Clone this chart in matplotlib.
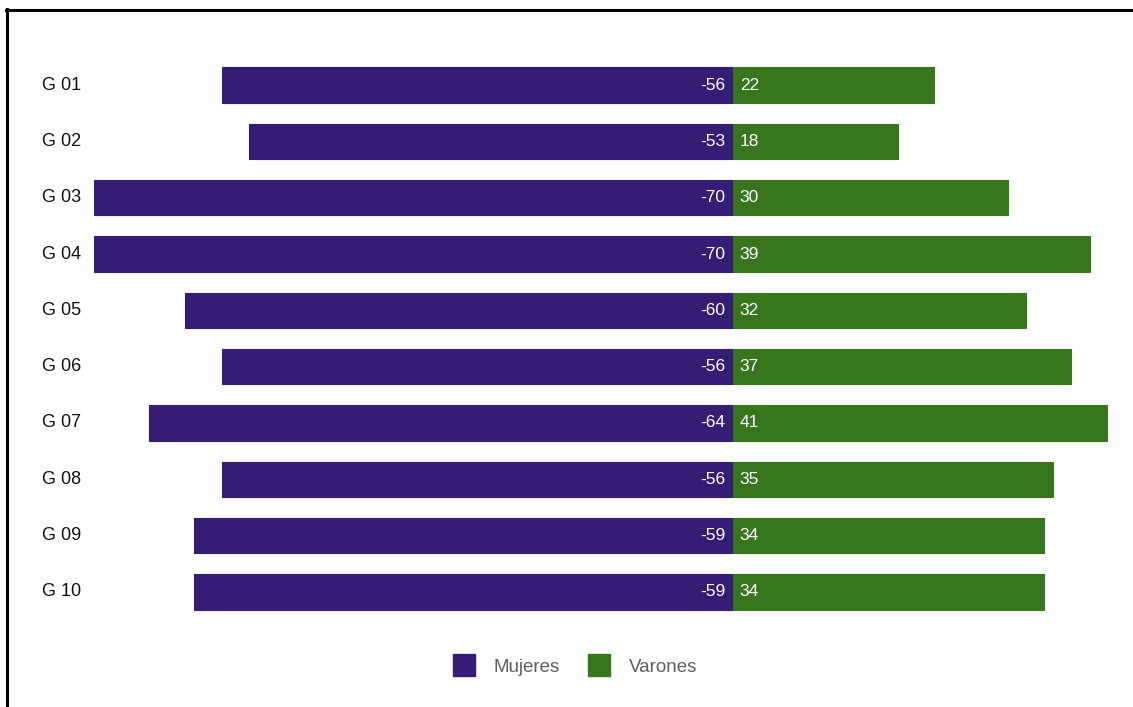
#!/usr/bin/env python3
# population-pyramid style bar chart: Mujeres (negative) vs Varones
import matplotlib.pyplot as plt
from matplotlib.lines import Line2D

plt.rcParams['font.family'] = ['Liberation Sans', 'DejaVu Sans']

groups = ['G 01', 'G 02', 'G 03', 'G 04', 'G 05', 'G 06', 'G 07', 'G 08', 'G 09', 'G 10']
mujeres = [-56, -53, -70, -70, -60, -56, -64, -56, -59, -59]
varones = [22, 18, 30, 39, 32, 37, 41, 35, 34, 34]

purple = '#351c75'
green = '#38761d'

W, H = 1133, 707
fig = plt.figure(figsize=(W / 100, H / 100), dpi=100)

# axes placed in pixel terms: x from -70 (px 94) to 41 (px 1108)
left, right = 94, 1108
top, bottom = 57, 620
ax = fig.add_axes([left / W, 1 - bottom / H, (right - left) / W, (bottom - top) / H])

ypos = list(range(len(groups)))
ax.barh(ypos, mujeres, height=0.63, color=purple, edgecolor=purple, linewidth=0.8)
ax.barh(ypos, varones, height=0.63, color=green, edgecolor=green, linewidth=0.8)

for y, m, v in zip(ypos, mujeres, varones):
    ax.annotate(str(m), (0, y), xytext=(-6, 0), textcoords='offset points',
                ha='right', va='center', color='white', fontsize=12.5)
    ax.annotate(str(v), (0, y), xytext=(4.5, 0), textcoords='offset points',
                ha='left', va='center', color='white', fontsize=12.5)

ax.set_xlim(-70, 41)
ax.set_ylim(len(groups) - 0.5, -0.5)
ax.set_xticks([])
ax.set_yticks([])
for s in ax.spines.values():
    s.set_visible(False)

# category labels, left aligned near the figure edge
for y, g in zip(ypos, groups):
    fig.text(42 / W, 1 - (top + (y + 0.5) * (bottom - top) / len(groups)) / H, g,
             ha='left', va='center', fontsize=13, color='#111111')

handles = [Line2D([], [], marker='s', linestyle='none', markersize=16,
                  markerfacecolor=purple, markeredgecolor=purple),
           Line2D([], [], marker='s', linestyle='none', markersize=16,
                  markerfacecolor=green, markeredgecolor=green)]
fig.legend(handles, ['Mujeres', 'Varones'], loc='center', ncol=2,
           bbox_to_anchor=(575 / W, 1 - 667 / H), frameon=False,
           fontsize=13.5, labelcolor='#5f5f5f', handletextpad=1.0, columnspacing=1.5,
           handlelength=1.2)

# frame lines at top and left (the picture is cropped on the other sides)
fig.add_artist(Line2D([7 / W, 7 / W], [0, 1 - 9 / H], transform=fig.transFigure,
                      color='black', linewidth=2.2))
fig.add_artist(Line2D([6 / W, 1], [1 - 10 / H, 1 - 10 / H], transform=fig.transFigure,
                      color='black', linewidth=2.2))

fig.savefig('out.png', dpi=100)
